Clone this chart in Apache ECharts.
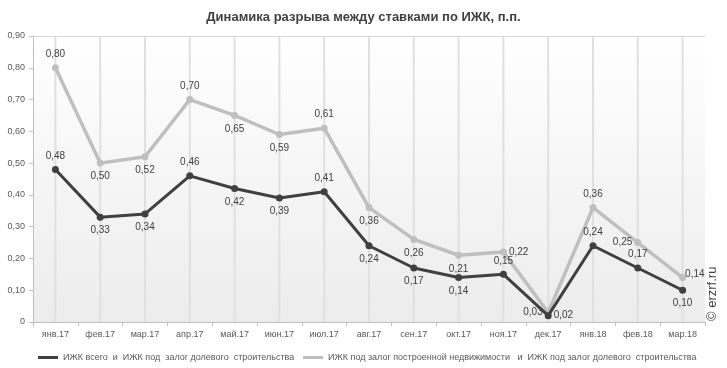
<!DOCTYPE html>
<html><head><meta charset="utf-8">
<script src="https://cdn.jsdelivr.net/npm/echarts@6/dist/echarts.min.js"></script>
<style>html,body{margin:0;padding:0;background:#fff}#c{width:727px;height:368px}</style>
</head><body><div id="c"></div>
<script>
const categories = ['янв.17','фев.17','мар.17','апр.17','май.17','июн.17','июл.17','авг.17','сен.17','окт.17','ноя.17','дек.17','янв.18','фев.18','мар.18'];
const totalVals = [0.48,0.33,0.34,0.46,0.42,0.39,0.41,0.24,0.17,0.14,0.15,0.02,0.24,0.17,0.10];
const builtVals = [0.80,0.50,0.52,0.70,0.65,0.59,0.61,0.36,0.26,0.21,0.22,0.03,0.36,0.25,0.14];
const totalPos = ['top','bottom','bottom','top','bottom','bottom','top','bottom','bottom','bottom','top','right','top','top','bottom'];
const builtPos = ['top','bottom','bottom','top','bottom','bottom','top','bottom','bottom','bottom','right','left','top','left','right'];
const seriesNames = ['ИЖК всего  и  ИЖК под  залог долевого  строительства','ИЖК под залог построенной недвижимости   и  ИЖК под залог долевого  строительства'];
const fmt = v => v === 0 ? '0' : v.toFixed(2).replace('.', ',');
const chart = echarts.init(document.getElementById('c'));
const lbl = (pos, last) => ({show:true, position:pos, distance:(pos==='right'||pos==='left')?(last?0:2):5, offset:last?[-1,-3]:[0,0], color:'#404040', fontSize:10, fontFamily:'Arial', formatter:p=>fmt(p.value)});
const legendText = {fontSize:9, color:'#595959', fontFamily:'Arial'};
chart.setOption({
  animation:false,
  textStyle:{fontFamily:'Arial'},
  title:{text:'Динамика разрыва между ставками по ИЖК, п.п.', left:'center', top:6, textStyle:{fontSize:13, fontWeight:'bold', color:'#404040', fontFamily:'Arial'}},
  graphic:[
    {type:'rect', shape:{x:33,y:36,width:672,height:286}, z:-10, style:{fill:new echarts.graphic.LinearGradient(0,0,0,1,[{offset:0,color:'#ffffff'},{offset:1,color:'#ececec'}])}},
    {type:'text', x:712, y:321, rotation:Math.PI/2, style:{text:'© erzrf.ru', fill:'#404040', font:'13px Arial', align:'left', verticalAlign:'middle'}}
  ],
  grid:{left:33, right:22, top:36, bottom:46},
  legend:[
    {top:348, left:33, itemWidth:20, itemHeight:3, icon:'rect', textStyle:legendText, data:[seriesNames[0]]},
    {top:348, left:298, itemWidth:20, itemHeight:3, icon:'rect', textStyle:legendText, data:[seriesNames[1]]}
  ],
  xAxis:{type:'category', data:categories, boundaryGap:true,
    axisLine:{lineStyle:{color:'#bfbfbf'}}, axisTick:{show:true, lineStyle:{color:'#bfbfbf'}, length:4},
    axisLabel:{color:'#595959', fontSize:9, margin:8},
    splitLine:{show:false}},
  yAxis:{type:'value', min:0, max:0.9, interval:0.1,
    axisLine:{show:true, lineStyle:{color:'#bfbfbf'}}, axisTick:{show:true, length:4, lineStyle:{color:'#bfbfbf'}},
    axisLabel:{color:'#595959', fontSize:9, formatter:fmt},
    splitLine:{show:false}},
  series:[
    {name:'vlines', type:'bar', data:categories.map(()=>0.9), barWidth:2, itemStyle:{color:'#e0e0e0'}, silent:true, z:0, legendHoverLink:false},
    {name:'border', type:'line', data:[], markLine:{silent:true, symbol:'none', label:{show:false}, lineStyle:{color:'#d9d9d9', type:'solid', width:1}, data:[{yAxis:0.9}]}},
    {name:seriesNames[1], type:'line', data:builtVals.map((v,i)=>({value:v, label:lbl(builtPos[i], i===builtVals.length-1)})), symbol:'circle', symbolSize:7,
      lineStyle:{color:'#bfbfbf', width:3.5}, itemStyle:{color:'#bfbfbf'}, z:3},
    {name:seriesNames[0], type:'line', data:totalVals.map((v,i)=>({value:v, label:lbl(totalPos[i], false)})), symbol:'circle', symbolSize:7,
      lineStyle:{color:'#404040', width:3}, itemStyle:{color:'#404040'}, z:4}
  ]
});
</script></body></html>
